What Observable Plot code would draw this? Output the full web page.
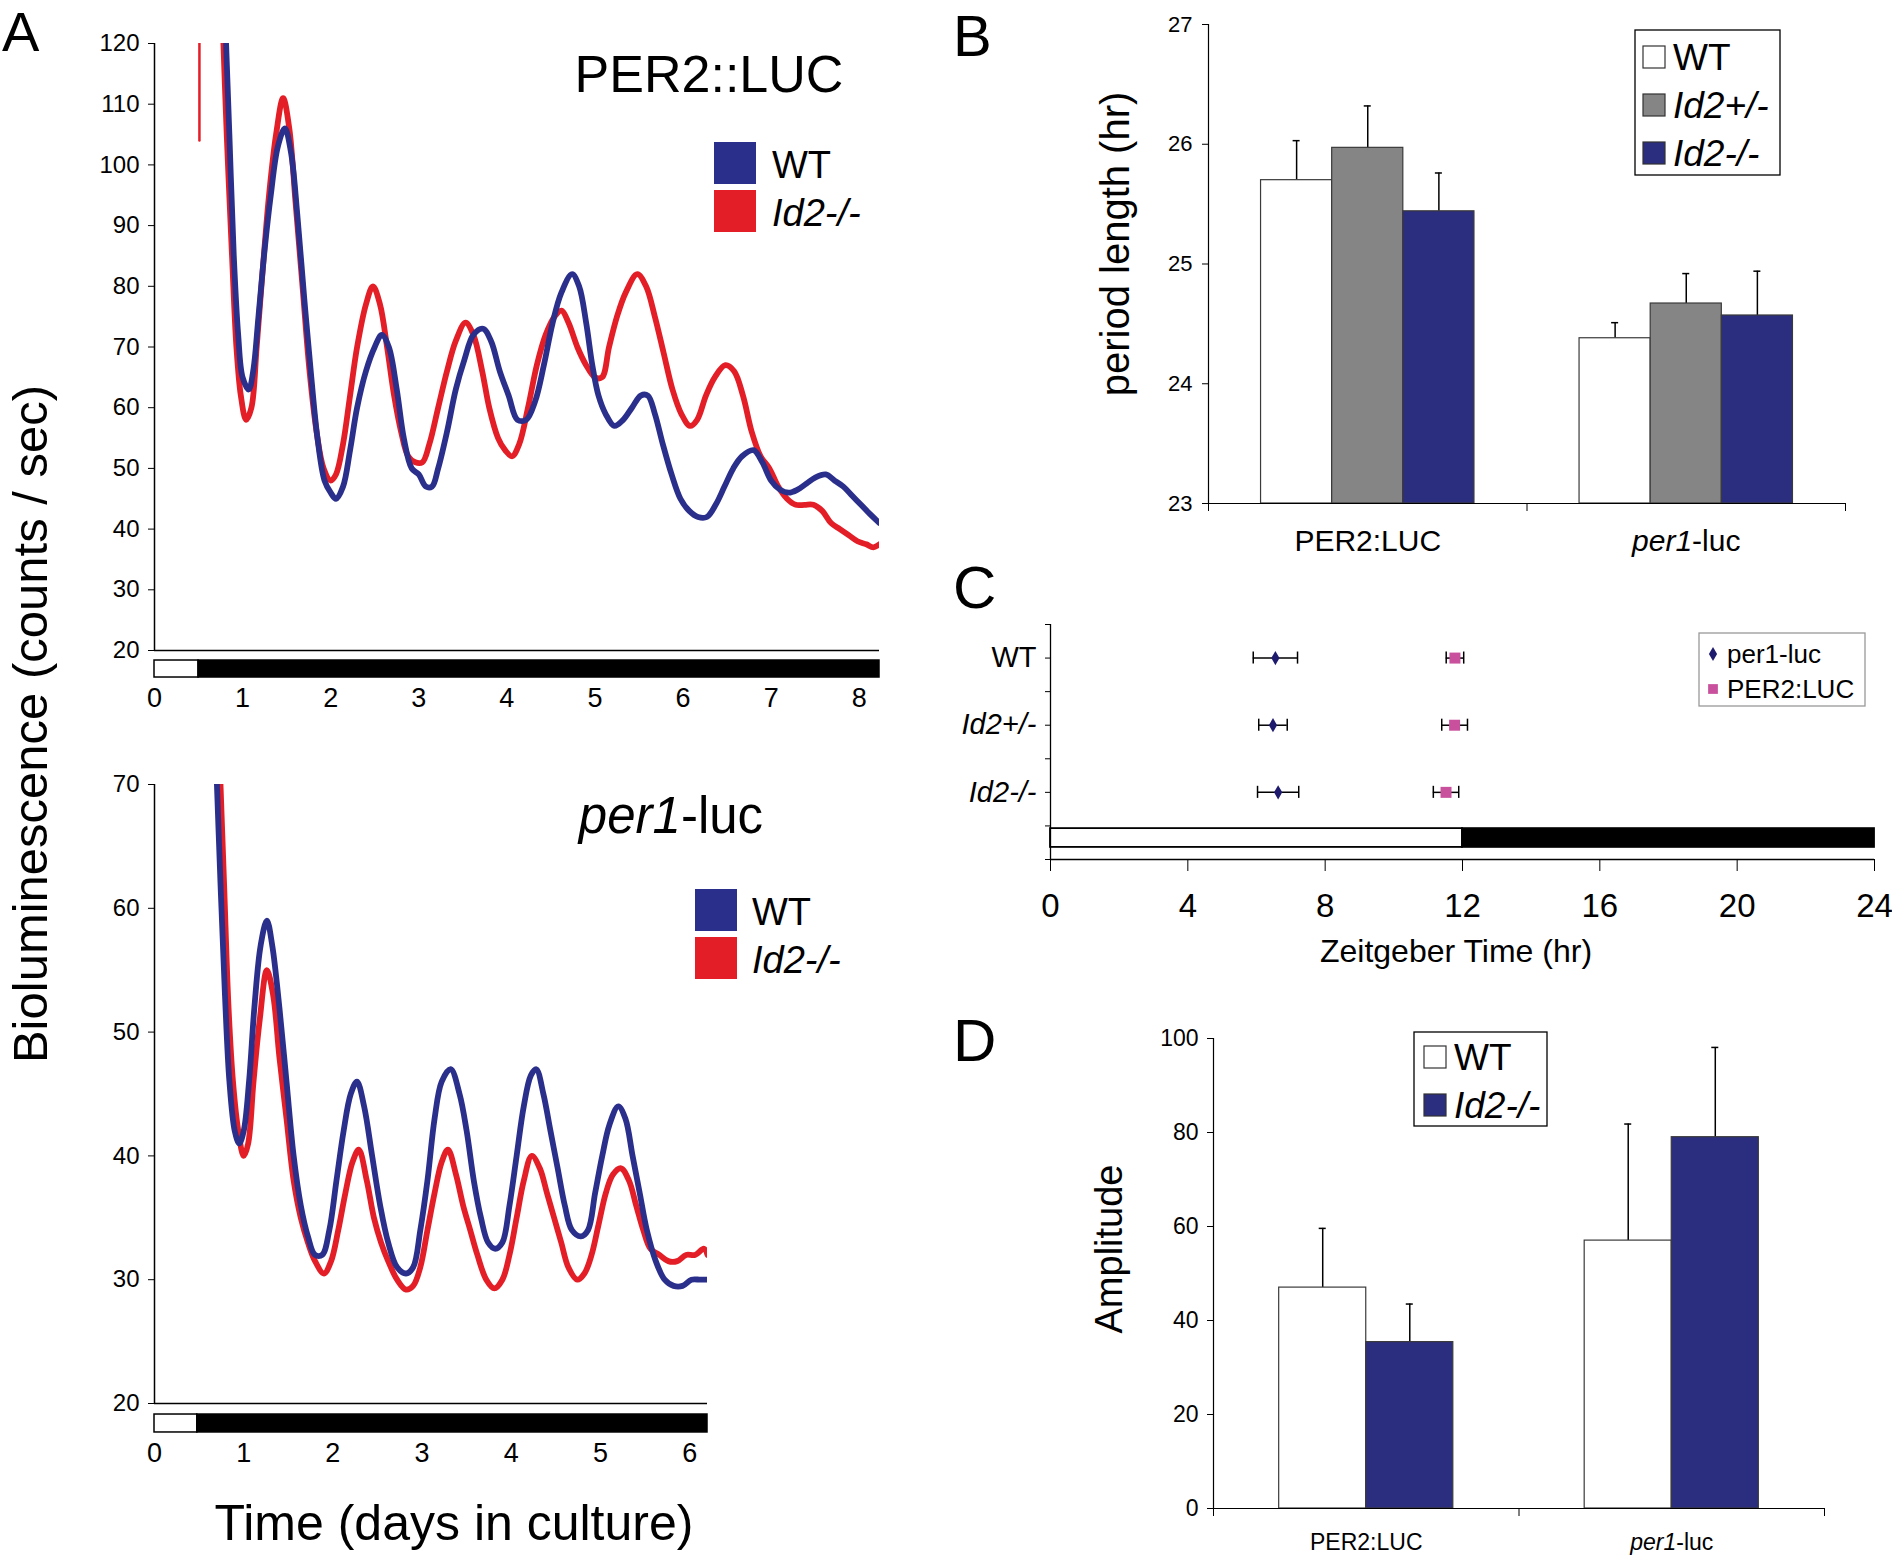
<!DOCTYPE html>
<html><head><meta charset="utf-8">
<script src="https://cdn.jsdelivr.net/npm/d3@7"></script>
<script src="https://cdn.jsdelivr.net/npm/@observablehq/plot@0.6"></script>
<style>
html,body{margin:0;padding:0;background:#fff;}
body{width:1892px;height:1556px;position:relative;overflow:hidden;font-family:"Liberation Sans",Arial,Helvetica,sans-serif;}
.panel{position:absolute;}
.panel svg{overflow:visible;}
#overlay{position:absolute;left:0;top:0;pointer-events:none;}
</style></head><body>
<script>
const FONT = '"Liberation Sans", Arial, Helvetica, sans-serif';
const BLUE = "#2b2f8c", RED = "#e31e26", NAVY = "#2b2d7f", GRAY = "#858585", MAGENTA = "#c8509c", DNAVY = "#1e1b6e";

// ---------- Panel A: PER2::LUC traces (days, counts/sec) ----------
const per2WT = [[0.80,125],[0.85,105],[0.90,85],[0.95,72],[1.00,65],[1.07,63],[1.12,66],[1.18,75],[1.25,86],[1.32,95],[1.40,103],[1.48,106],[1.55,102],[1.62,92],[1.70,78],[1.78,65],[1.85,55],[1.93,48],[2.00,46],[2.06,45],[2.14,47],[2.22,53],[2.30,60],[2.40,66],[2.50,70],[2.58,72],[2.66,70],[2.75,63],[2.83,55],[2.92,50],[3.00,49],[3.08,47],[3.15,47],[3.22,50],[3.32,56],[3.42,63],[3.52,68],[3.62,72],[3.73,73],[3.82,71],[3.92,66],[4.02,62],[4.12,58],[4.22,58],[4.32,61],[4.42,67],[4.52,74],[4.62,79],[4.74,82],[4.82,80],[4.90,74],[4.97,67],[5.04,62],[5.12,59],[5.22,57],[5.32,58],[5.42,60],[5.52,62],[5.60,62],[5.68,59],[5.77,54],[5.87,49],[5.97,45],[6.07,43],[6.17,42],[6.27,42],[6.37,44],[6.47,47],[6.57,50],[6.67,52],[6.80,53],[6.90,51],[7.00,48],[7.10,46.5],[7.20,46],[7.30,46.5],[7.40,47.5],[7.50,48.5],[7.62,49],[7.72,48],[7.82,47],[7.92,45.5],[8.02,44],[8.12,42.5],[8.23,41]];
const per2Id2 = [[0.77,125],[0.82,105],[0.88,85],[0.93,70],[0.98,62],[1.04,58],[1.10,60],[1.16,70],[1.23,83],[1.30,95],[1.38,105],[1.46,111],[1.53,106],[1.60,94],[1.68,80],[1.76,66],[1.84,56],[1.92,50],[2.00,48],[2.06,49],[2.14,54],[2.22,62],[2.30,70],[2.40,77],[2.48,80],[2.56,77],[2.64,70],[2.72,62],[2.80,56],[2.88,52],[2.96,51],[3.04,51],[3.12,54],[3.22,60],[3.32,66],[3.42,71],[3.53,74],[3.62,72],[3.72,66],[3.80,60],[3.90,55],[3.98,53],[4.06,52],[4.14,54],[4.24,60],[4.34,67],[4.44,72],[4.54,75],[4.62,76],[4.70,74],[4.80,70],[4.90,67],[5.00,65],[5.08,65],[5.16,70],[5.25,75],[5.35,79],[5.48,82],[5.58,80],[5.68,75],[5.78,69],[5.88,63],[5.98,59],[6.08,57],[6.16,58],[6.26,62],[6.36,65],[6.48,67],[6.58,66],[6.68,62],[6.78,56],[6.88,52],[6.98,50],[7.08,47],[7.18,45],[7.28,44],[7.38,44],[7.48,44],[7.58,43],[7.68,41],[7.78,40],[7.88,39],[7.98,38],[8.08,37.5],[8.16,37],[8.23,37.5]];
const per2Id2Spike = [[0.51,104],[0.51,121]];
const ticksA1Y = [20,30,40,50,60,70,80,90,100,110,120];
const ticksA1X = [0,1,2,3,4,5,6,7,8];
const ldA1 = [{phase:"light",start:0,end:0.5},{phase:"dark",start:0.5,end:8.23}];

// ---------- Panel A: per1-luc traces ----------
const per1WT = [[0.69,72],[0.74,62],[0.79,53],[0.84,46],[0.90,42],[0.95,41],[1.00,42],[1.06,46],[1.12,52],[1.19,57],[1.26,59],[1.32,57],[1.40,52],[1.48,46],[1.56,40],[1.64,36],[1.72,33.5],[1.80,32],[1.88,32],[1.96,34],[2.04,38],[2.12,42],[2.20,45],[2.27,46],[2.35,44],[2.44,40],[2.53,36],[2.62,33],[2.72,31],[2.82,30.5],[2.90,31],[2.98,34],[3.06,38],[3.14,43],[3.22,46],[3.32,47],[3.42,45],[3.50,42],[3.58,38],[3.66,35],[3.74,33],[3.82,32.5],[3.90,33],[3.98,36],[4.06,40],[4.14,44],[4.22,46.5],[4.28,47],[4.36,45],[4.44,42],[4.52,39],[4.60,36],[4.68,34],[4.78,33.5],[4.86,34],[4.94,37],[5.02,40],[5.10,42.5],[5.20,44],[5.28,43],[5.36,40],[5.44,37],[5.52,34],[5.62,31.5],[5.72,30],[5.82,29.5],[5.92,29.5],[6.02,30],[6.12,30],[6.20,30]];
const per1Id2 = [[0.73,72],[0.78,62],[0.83,52],[0.88,46],[0.94,42],[1.00,40],[1.05,41],[1.11,46],[1.18,51],[1.26,55],[1.33,53],[1.40,48],[1.48,43],[1.56,38],[1.64,35],[1.72,33],[1.80,31.5],[1.90,30.5],[1.98,31.5],[2.06,34],[2.14,37],[2.22,39.5],[2.29,40.5],[2.38,38],[2.46,35],[2.54,33],[2.62,31.5],[2.72,30],[2.82,29.2],[2.90,29.5],[2.98,31],[3.06,34],[3.14,37],[3.22,39.5],[3.29,40.5],[3.38,38.5],[3.46,36],[3.54,34],[3.62,32],[3.72,30],[3.81,29.3],[3.90,30],[3.98,32],[4.06,35],[4.14,38],[4.23,40],[4.32,39],[4.40,37],[4.48,35],[4.56,33],[4.64,31],[4.74,30],[4.82,30.5],[4.90,32],[4.98,34.5],[5.06,37],[5.14,38.5],[5.23,39],[5.32,38],[5.40,36],[5.48,34],[5.56,32.5],[5.66,32],[5.76,31.5],[5.86,31.5],[5.96,32],[6.06,32],[6.16,32.5],[6.20,32]];
const ticksA2Y = [20,30,40,50,60,70];
const ticksA2X = [0,1,2,3,4,5,6];
const ldA2 = [{phase:"light",start:0,end:0.48},{phase:"dark",start:0.48,end:6.2}];

// ---------- Panel B: period length ----------
const reporters = ["PER2:LUC","per1-luc"];
const genotypesB = ["WT","Id2+/-","Id2-/-"];
const periodWT = [25.70, 24.38], periodWTErr = [0.33, 0.13];
const periodHet = [25.97, 24.67], periodHetErr = [0.35, 0.25];
const periodKO = [25.44, 24.57], periodKOErr = [0.32, 0.37];
const ticksBY = [23,24,25,26,27];

// ---------- Panel C: phase ----------
const genotypesC = ["WT","Id2+/-","Id2-/-"];
const phasePer1 = [6.55, 6.48, 6.63], phasePer1Err = [0.645, 0.415, 0.60];
const phasePer2 = [11.78, 11.77, 11.52], phasePer2Err = [0.255, 0.375, 0.37];
const ticksCX = [0,4,8,12,16,20,24];
const ldC = [{phase:"light",start:0,end:12},{phase:"dark",start:12,end:24}];

// ---------- Panel D: amplitude ----------
const genotypesD = ["WT","Id2-/-"];
const ampWT = [47.0, 57.0], ampWTErr = [12.6, 24.8];
const ampKO = [35.4, 79.0], ampKOErr = [8.1, 19.1];
const ticksDY = [0,20,40,60,80,100];

// ---------- helpers ----------
const SVGNS = "http://www.w3.org/2000/svg";
const intFmt = d => String(d);
function place(node, left, top){
  const d = document.createElement("div");
  d.className = "panel"; d.style.left = left+"px"; d.style.top = top+"px";
  d.appendChild(node); document.body.appendChild(d);
}
function italicize(svg){
  svg.querySelectorAll("text").forEach(t=>{
    const s = t.textContent;
    if (s === "per1-luc") {
      t.textContent = "";
      const a = document.createElementNS(SVGNS,"tspan"); a.setAttribute("font-style","italic"); a.textContent = "per1";
      const b = document.createElementNS(SVGNS,"tspan"); b.textContent = "-luc";
      t.appendChild(a); t.appendChild(b);
    } else if (s.startsWith("Id2")) {
      t.setAttribute("font-style","italic");
    }
  });
}
const baseStyle = {fontFamily: FONT, background: "transparent", overflow: "visible", color: "#000"};
const px = d => d[0], py = d => d[1];
const TRACE_W = 5.8;

// ---------- Panel A top ----------
const pA1 = Plot.plot({
  width: 900, height: 720, marginLeft: 154, marginRight: 21, marginTop: 43, marginBottom: 70,
  style: baseStyle,
  x: {domain: [0, 8.23]}, y: {domain: [20, 120]},
  color: {domain: ["light","dark"], range: ["#fff","#000"]},
  marks: [
    Plot.line(per2Id2Spike, {x: px, y: py, stroke: RED, strokeWidth: 2.5, clip: true}),
    Plot.line(per2Id2, {x: px, y: py, stroke: RED, strokeWidth: TRACE_W, curve: "catmull-rom", clip: true}),
    Plot.line(per2WT, {x: px, y: py, stroke: BLUE, strokeWidth: TRACE_W, curve: "catmull-rom", clip: true}),
    Plot.rect(ldA1, {x1: "start", x2: "end", y1: 15.55, y2: 18.35, fill: "phase", stroke: "#000", strokeWidth: 1.5}),
    Plot.ruleY([20], {stroke: "#000", strokeWidth: 1.5}),
    Plot.ruleX([0], {stroke: "#000", strokeWidth: 1.5}),
    Plot.axisY({ticks: ticksA1Y, tickSize: 6, tickPadding: 9, fontSize: 24, label: null, tickFormat: intFmt}),
    Plot.axisX({ticks: ticksA1X, tickSize: 0, tickPadding: 37, fontSize: 27, label: null, tickFormat: intFmt})
  ]
});
place(pA1, 0, 0);

// ---------- Panel A bottom ----------
const pA2 = Plot.plot({
  width: 900, height: 740, marginLeft: 154, marginRight: 193, marginTop: 44, marginBottom: 77,
  style: baseStyle,
  x: {domain: [0, 6.2]}, y: {domain: [20, 70]},
  color: {domain: ["light","dark"], range: ["#fff","#000"]},
  marks: [
    Plot.line(per1Id2, {x: px, y: py, stroke: RED, strokeWidth: TRACE_W, curve: "catmull-rom", clip: true}),
    Plot.line(per1WT, {x: px, y: py, stroke: BLUE, strokeWidth: TRACE_W, curve: "catmull-rom", clip: true}),
    Plot.rect(ldA2, {x1: "start", x2: "end", y1: 17.66, y2: 19.11, fill: "phase", stroke: "#000", strokeWidth: 1.5}),
    Plot.ruleY([20], {stroke: "#000", strokeWidth: 1.5}),
    Plot.ruleX([0], {stroke: "#000", strokeWidth: 1.5}),
    Plot.axisY({ticks: ticksA2Y, tickSize: 6, tickPadding: 9, fontSize: 24, label: null, tickFormat: intFmt}),
    Plot.axisX({ticks: ticksA2X, tickSize: 0, tickPadding: 39, fontSize: 27, label: null, tickFormat: intFmt})
  ]
});
place(pA2, 0, 740);

// ---------- Panel B ----------
const periodMeans = [periodWT, periodHet, periodKO];
const periodErrs = [periodWTErr, periodHetErr, periodKOErr];
const rowsB = reporters.flatMap((r,i)=>genotypesB.map((g,j)=>({reporter:r, geno:g, i, j, mean: periodMeans[j][i], err: periodErrs[j][i]})));
const padB = 0.165, bwB = (1 - 2*padB)/genotypesB.length, capB = 0.011;
const bx1 = d => d.i + padB + d.j*bwB, bx2 = d => bx1(d) + bwB, bxc = d => bx1(d) + bwB/2;
const pB = Plot.plot({
  width: 842, height: 600, marginLeft: 158, marginRight: 47, marginTop: 24, marginBottom: 97,
  style: baseStyle,
  x: {domain: [0, reporters.length]}, y: {domain: [23, 27]},
  color: {domain: genotypesB, range: ["#ffffff", GRAY, NAVY]},
  marks: [
    Plot.ruleX(rowsB, {x: bxc, y1: d=>d.mean, y2: d=>d.mean+d.err, stroke: "#000", strokeWidth: 1.5}),
    Plot.ruleY(rowsB, {y: d=>d.mean+d.err, x1: d=>bxc(d)-capB, x2: d=>bxc(d)+capB, stroke: "#000", strokeWidth: 1.5}),
    Plot.rect(rowsB, {x1: bx1, x2: bx2, y1: 23, y2: "mean", fill: "geno", stroke: "#3a3a3a", strokeWidth: 1.2}),
    Plot.ruleY([23], {stroke: "#000", strokeWidth: 1.2}),
    Plot.ruleX([0], {stroke: "#000", strokeWidth: 1.2}),
    Plot.axisY({ticks: ticksBY, tickSize: 6, tickPadding: 10, fontSize: 22, label: null, tickFormat: intFmt}),
    Plot.axisX({ticks: [0,1,2], tickSize: 8, tickFormat: () => "", label: null}),
    Plot.axisX({ticks: [0.5,1.5], tickSize: 0, tickPadding: 26, fontSize: 30, tickFormat: v => reporters[Math.floor(v)], label: null})
  ]
});
italicize(pB);
place(pB, 1050, 0);

// ---------- Panel C ----------
const rowsC = genotypesC.map((g,k)=>({geno:g, row:k+1, p1: phasePer1[k], e1: phasePer1Err[k], p2: phasePer2[k], e2: phasePer2Err[k]}));
const capC = 0.09;
const pC = Plot.plot({
  width: 952, height: 400, marginLeft: 110, marginRight: 18, marginTop: 44, marginBottom: 121,
  style: baseStyle,
  x: {domain: [0, 24]}, y: {domain: [0.5, 4], reverse: true},
  color: {domain: ["light","dark"], range: ["#fff","#000"]},
  marks: [
    Plot.rect(ldC, {x1: "start", x2: "end", y1: 3.54, y2: 3.82, fill: "phase", stroke: "#000", strokeWidth: 1.8}),
    Plot.ruleY(rowsC, {y: "row", x1: d=>d.p1-d.e1, x2: d=>d.p1+d.e1, stroke: "#000", strokeWidth: 1.5}),
    Plot.ruleX(rowsC, {x: d=>d.p1-d.e1, y1: d=>d.row-capC, y2: d=>d.row+capC, stroke: "#000", strokeWidth: 1.5}),
    Plot.ruleX(rowsC, {x: d=>d.p1+d.e1, y1: d=>d.row-capC, y2: d=>d.row+capC, stroke: "#000", strokeWidth: 1.5}),
    Plot.ruleY(rowsC, {y: "row", x1: d=>d.p2-d.e2, x2: d=>d.p2+d.e2, stroke: "#000", strokeWidth: 1.5}),
    Plot.ruleX(rowsC, {x: d=>d.p2-d.e2, y1: d=>d.row-capC, y2: d=>d.row+capC, stroke: "#000", strokeWidth: 1.5}),
    Plot.ruleX(rowsC, {x: d=>d.p2+d.e2, y1: d=>d.row-capC, y2: d=>d.row+capC, stroke: "#000", strokeWidth: 1.5}),
    Plot.dot(rowsC, {x: "p1", y: "row", symbol: "diamond", r: 4.3, fill: DNAVY, stroke: "none"}),
    Plot.dot(rowsC, {x: "p2", y: "row", symbol: "square", r: 6.2, fill: MAGENTA, stroke: "none"}),
    Plot.ruleY([4], {stroke: "#000", strokeWidth: 1.3}),
    Plot.ruleX([0], {stroke: "#000", strokeWidth: 1.3}),
    Plot.axisY({ticks: d3.range(0.5, 4.01, 0.5), tickSize: 5, tickPadding: 9, fontSize: 29, label: null,
      tickFormat: v => (Number.isInteger(v) && v <= genotypesC.length) ? genotypesC[v-1] : ""}),
    Plot.axisX({ticks: ticksCX, tickSize: 12, tickPadding: 22, fontSize: 33, label: null, tickFormat: intFmt})
  ]
});
italicize(pC);
place(pC, 940, 580);

// ---------- Panel D ----------
const ampMeans = [ampWT, ampKO], ampErrs = [ampWTErr, ampKOErr];
const rowsD = reporters.flatMap((r,i)=>genotypesD.map((g,j)=>({reporter:r, geno:g, i, j, mean: ampMeans[j][i], err: ampErrs[j][i]})));
const padD = 0.215, bwD = (1 - 2*padD)/genotypesD.length, capD = 0.0115;
const dx1 = d => d.i + padD + d.j*bwD, dx2 = d => dx1(d) + bwD, dxc = d => dx1(d) + bwD/2;
const pD = Plot.plot({
  width: 842, height: 556, marginLeft: 163, marginRight: 68, marginTop: 38, marginBottom: 48,
  style: baseStyle,
  x: {domain: [0, reporters.length]}, y: {domain: [0, 100]},
  color: {domain: genotypesD, range: ["#ffffff", NAVY]},
  marks: [
    Plot.ruleX(rowsD, {x: dxc, y1: d=>d.mean, y2: d=>d.mean+d.err, stroke: "#000", strokeWidth: 1.5}),
    Plot.ruleY(rowsD, {y: d=>d.mean+d.err, x1: d=>dxc(d)-capD, x2: d=>dxc(d)+capD, stroke: "#000", strokeWidth: 1.5}),
    Plot.rect(rowsD, {x1: dx1, x2: dx2, y1: 0, y2: "mean", fill: "geno", stroke: "#3a3a3a", strokeWidth: 1.2}),
    Plot.ruleY([0], {stroke: "#000", strokeWidth: 1.2}),
    Plot.ruleX([0], {stroke: "#000", strokeWidth: 1.2}),
    Plot.axisY({ticks: ticksDY, tickSize: 6, tickPadding: 9, fontSize: 23, label: null, tickFormat: intFmt}),
    Plot.axisX({ticks: [0,1,2], tickSize: 8, tickFormat: () => "", label: null}),
    Plot.axisX({ticks: [0.5,1.5], tickSize: 0, tickPadding: 25, fontSize: 23, tickFormat: v => reporters[Math.floor(v)], label: null})
  ]
});
italicize(pD);
place(pD, 1050, 1000);

// ---------- overlay: titles, axis titles, legends ----------
const ov = d3.select(document.body).append("svg").attr("id","overlay")
  .attr("width",1892).attr("height",1556).attr("font-family",FONT);
function txt(x,y,s,size,opts={}){
  const t = ov.append("text").attr("x",x).attr("y",y).attr("font-size",size).attr("fill","#000")
    .attr("text-anchor", opts.anchor || "start");
  if (opts.transform) t.attr("transform", opts.transform).attr("x",0).attr("y",0);
  if (opts.italic) t.attr("font-style","italic");
  if (opts.parts) { opts.parts.forEach(p=>t.append("tspan").attr("font-style", p[1]?"italic":"normal").text(p[0])); }
  else t.text(s);
  return t;
}
// panel letters
txt(2,51,"A",56); txt(953,56,"B",58); txt(953,608,"C",60); txt(953,1061,"D",60);
// panel A titles
txt(709,92,"PER2::LUC",52,{anchor:"middle"});
txt(671,833,null,51,{anchor:"middle",parts:[["per1",true],["-luc",false]]});
// axis titles
txt(0,0,"Bioluminescence (counts / sec)",49,{anchor:"middle",transform:"translate(47,724) rotate(-90)"});
txt(454,1540,"Time (days in culture)",50,{anchor:"middle"});
txt(0,0,"period length (hr)",40,{anchor:"middle",transform:"translate(1129,244) rotate(-90)"});
txt(1456,962,"Zeitgeber Time (hr)",32,{anchor:"middle"});
txt(0,0,"Amplitude",38,{anchor:"middle",transform:"translate(1122,1249) rotate(-90)"});

// legend A top & bottom
const legA = [["WT",BLUE,false],["Id2-/-",RED,true]];
[[714,142,772],[695,889,752]].forEach(([x0,y0,tx])=>{
  legA.forEach((e,k)=>{
    ov.append("rect").attr("x",x0).attr("y",y0+k*48).attr("width",42).attr("height",42).attr("fill",e[1]);
    txt(tx,y0+k*48+36,e[0],38,{italic:e[2]});
  });
});
// legend B
ov.append("rect").attr("x",1635).attr("y",30).attr("width",145).attr("height",145).attr("fill","#fff").attr("stroke","#000").attr("stroke-width",1.3);
const legB = [["WT","#fff",false],["Id2+/-",GRAY,true],["Id2-/-",NAVY,true]];
legB.forEach((e,k)=>{
  const cy = 57 + k*48;
  ov.append("rect").attr("x",1643).attr("y",cy-11).attr("width",22).attr("height",22).attr("fill",e[1]).attr("stroke","#333").attr("stroke-width",1.2);
  txt(1673,cy+13,e[0],37,{italic:e[2]});
});
// legend C
ov.append("rect").attr("x",1699).attr("y",633).attr("width",166).attr("height",73).attr("fill","#fff").attr("stroke","#999").attr("stroke-width",1.3);
ov.append("path").attr("d", d3.symbol(d3.symbolDiamond, Math.PI*4.3*4.3)()).attr("transform","translate(1713,654)").attr("fill",DNAVY);
ov.append("path").attr("d", d3.symbol(d3.symbolSquare, Math.PI*5.5*5.5)()).attr("transform","translate(1713,689)").attr("fill",MAGENTA);
txt(1727,663,"per1-luc",26); txt(1727,698,"PER2:LUC",26);
// legend D
ov.append("rect").attr("x",1414).attr("y",1032).attr("width",133).attr("height",94).attr("fill","#fff").attr("stroke","#000").attr("stroke-width",1.3);
const legD = [["WT","#fff",false],["Id2-/-",NAVY,true]];
legD.forEach((e,k)=>{
  const cy = 1057 + k*48;
  ov.append("rect").attr("x",1424).attr("y",cy-11).attr("width",22).attr("height",22).attr("fill",e[1]).attr("stroke","#333").attr("stroke-width",1.2);
  txt(1454,cy+13,e[0],37,{italic:e[2]});
});
</script>
</body></html>
